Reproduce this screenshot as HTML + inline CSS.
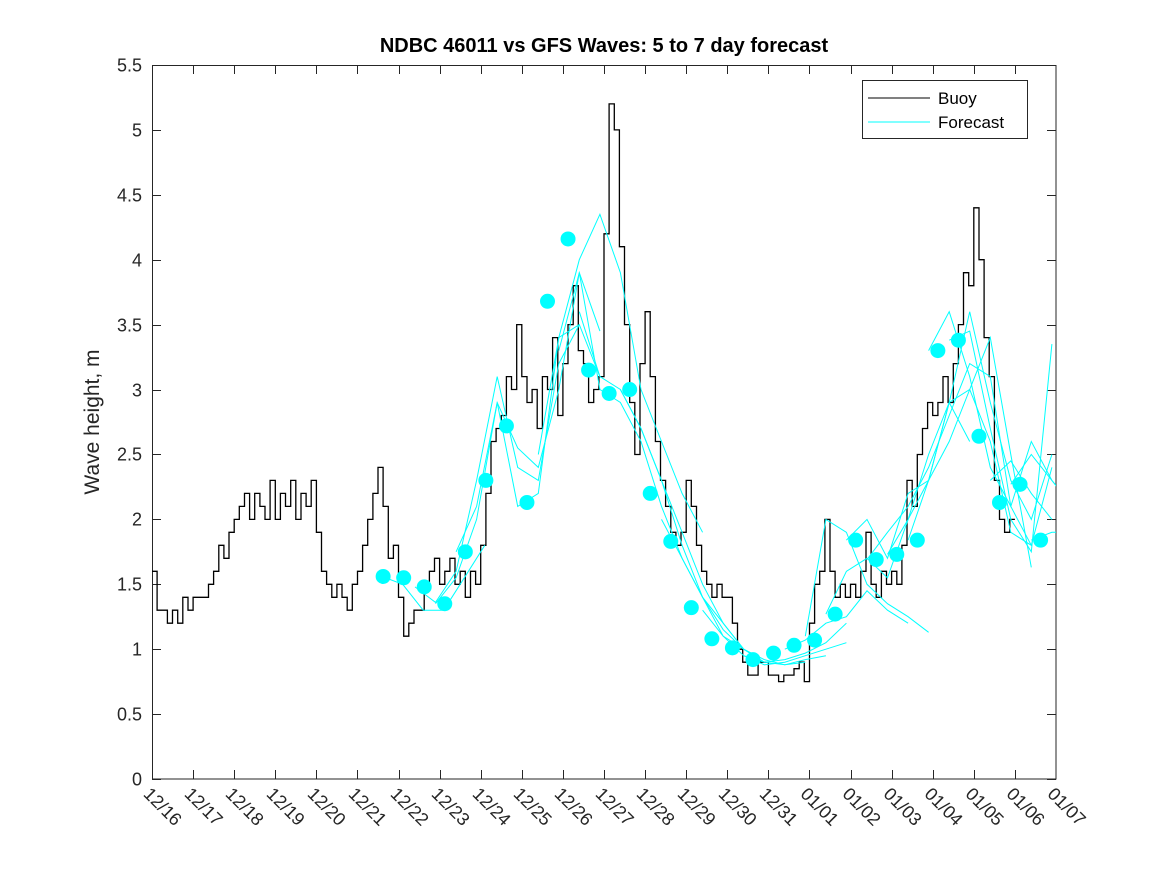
<!DOCTYPE html>
<html><head><meta charset="utf-8"><style>
body{margin:0;background:#fff;}
svg{display:block;font-family:"Liberation Sans","DejaVu Sans",sans-serif;}
</style></head><body>
<svg id="chart" width="1167" height="875" viewBox="0 0 1167 875">
<rect x="0" y="0" width="1167" height="875" fill="#fff"/>
<text x="604" y="52" font-size="20" font-weight="bold" text-anchor="middle" fill="#000">NDBC 46011 vs GFS Waves: 5 to 7 day forecast</text>
<text transform="translate(99,422) rotate(-90)" font-size="21" text-anchor="middle" fill="#262626">Wave height, m</text>
<defs><clipPath id="plotclip"><rect x="152" y="65" width="904" height="714"/></clipPath></defs>
<rect x="152.5" y="65.5" width="903.5" height="713.5" fill="#fff" stroke="#262626" stroke-width="1"/>
<g id="axes"></g>
<g id="series" clip-path="url(#plotclip)"></g>
<g>
<rect x="862.5" y="80.5" width="165" height="58" fill="#fff" stroke="#262626"/>
<line x1="868" y1="98" x2="930" y2="98" stroke="#000" stroke-width="1"/>
<text x="938" y="104" font-size="17" fill="#000">Buoy</text>
<line x1="868" y1="122" x2="930" y2="122" stroke="#00ffff" stroke-width="1"/>
<text x="938" y="128" font-size="17" fill="#000">Forecast</text>
</g>
</svg>
<script>
const xTickLabels=["12/16","12/17","12/18","12/19","12/20","12/21","12/22","12/23","12/24","12/25","12/26","12/27","12/28","12/29","12/30","12/31","01/01","01/02","01/03","01/04","01/05","01/06","01/07"];
const yTicks=[0,0.5,1,1.5,2,2.5,3,3.5,4,4.5,5,5.5];
const buoyStep=0.125;
const buoyValues=[
1.6,1.3,1.3,1.2,1.3,1.2,1.4,1.3,
1.4,1.4,1.4,1.5,1.6,1.8,1.7,1.9,
2.0,2.1,2.2,2.0,2.2,2.1,2.0,2.3,
2.0,2.2,2.1,2.3,2.0,2.2,2.1,2.3,
1.9,1.6,1.5,1.4,1.5,1.4,1.3,1.5,
1.6,1.8,2.0,2.2,2.4,2.1,1.7,1.8,
1.4,1.1,1.2,1.3,1.3,1.5,1.6,1.7,
1.5,1.6,1.7,1.5,1.6,1.4,1.6,1.5,
1.8,2.2,2.6,2.7,2.8,3.1,3.0,3.5,
3.1,2.9,3.0,2.7,3.1,3.0,3.4,2.8,
3.2,3.5,3.8,3.3,3.2,2.9,3.0,3.1,
4.2,5.2,5.0,4.1,3.5,2.9,2.5,3.2,
3.6,3.1,2.6,2.3,2.1,1.9,1.8,1.9,
2.3,2.1,1.8,1.6,1.5,1.4,1.5,1.4,
1.4,1.2,1.0,0.9,0.8,0.8,0.9,0.9,
0.8,0.8,0.75,0.8,0.8,0.85,0.9,0.75,
1.2,1.5,1.6,2.0,1.6,1.4,1.5,1.4,
1.5,1.4,1.6,1.9,1.5,1.4,1.6,1.5,
1.6,1.5,1.8,2.3,2.1,2.5,2.7,2.9,
2.8,2.9,3.1,2.9,3.2,3.5,3.9,3.8,
4.4,4.0,3.4,3.1,2.3,2.0,1.9,2.0];
const markerStart=5.625, markerStep=0.5;
const markerValues=[1.56,1.55,1.48,1.35,1.75,2.30,2.72,2.13,3.68,4.16,3.15,2.97,3.00,2.20,1.83,1.32,1.08,1.01,0.92,0.97,1.03,1.07,1.27,1.84,1.69,1.73,1.84,3.30,3.38,2.64,2.13,2.27,1.84];
const forecastStarts=[5.6,6.4,6.9,7.4,9.4,9.9,10.4,11.4,12.4,13.4,14.4,15.4,15.9,16.4,16.9,17.4,17.9,18.4,18.9,19.4,20.4,20.9,21.4];
const forecastValues=[
[1.56,1.50,1.30,1.30,1.55,1.80],
[1.48,1.36,1.60,2.30,3.10,2.40,2.30,3.20,3.50],
[1.35,1.55,2.0,2.9,2.55,2.4,3.0,3.9,3.45],
[1.75,2.1,2.9,2.1,2.2,3.4,3.5,3.1],
[2.5,3.4,4.0,4.35,3.9,3.0,2.6,2.2,1.9],
[3.3,3.9,3.0,2.9,2.6,2.1,1.7,1.4,1.2,1.0],
[3.6,3.1,3.0,2.7,2.3,1.8,1.4,1.1,1.0,0.9],
[3.0,2.7,2.3,1.9,1.5,1.2,1.0,0.92,0.88,0.9],
[2.0,1.7,1.4,1.15,1.0,0.9,0.88,0.92,0.95],
[1.3,1.1,0.95,0.88,0.9,0.95,1.0,1.05],
[0.95,0.9,0.92,0.97,1.05,1.2],
[1.0,1.07,1.2,1.25,1.45,1.3,1.2],
[1.1,2.0,1.9,1.5,1.35,1.25,1.13],
[1.27,1.6,1.7,1.55,2.0,2.3,2.9,2.6],
[1.84,2.0,1.7,2.2,2.3,2.6,3.0,3.4,2.5,1.63],
[1.69,1.9,2.1,2.4,2.8,3.2,3.1,2.1,1.8],
[1.73,2.0,2.5,2.9,3.0,2.6,1.9,1.8,2.4],
[1.84,2.3,2.9,3.6,2.9,2.3,2.0,2.5],
[3.3,3.6,3.1,2.4,2.1,2.6,2.3,2.1],
[3.38,3.45,2.7,2.0,1.75,3.35],
[2.3,2.45,2.2,2.0],
[2.27,2.5,2.3,2.1],
[1.84,1.9,1.9]];
const NS="http://www.w3.org/2000/svg";
const X0=152,X1=1056,Y0=779,Y1=65,DAYS=22,YMAX=5.5;
function xs(d){return X0+(X1-X0)*d/DAYS;}
function ys(v){return Y0-(Y0-Y1)*v/YMAX;}
function mk(tag,attrs,parent){const e=document.createElementNS(NS,tag);for(const k in attrs)e.setAttribute(k,attrs[k]);parent.appendChild(e);return e;}
const axes=document.getElementById('axes'),series=document.getElementById('series');
yTicks.forEach(v=>{const y=Math.round(ys(v))+0.5;
 const t=mk('line',{x1:152,y1:y,x2:161,y2:y,stroke:'#262626'},axes);
 
 
 const t2=mk('line',{x1:1047,y1:y,x2:1056,y2:y,stroke:'#262626'},axes);
 
 
 const l=mk('text',{x:142,y:y+6,'font-size':18,'text-anchor':'end',fill:'#262626'},axes);
 l.textContent=String(v);
 
 
});
xTickLabels.forEach((s,i)=>{const x=Math.round(xs(i))+0.5;
 if(i>0&&i<DAYS){
 const t=mk('line',{x1:x,y1:779,x2:x,y2:770,stroke:'#262626'},axes);
 
 
 const t2=mk('line',{x1:x,y1:65,x2:x,y2:74,stroke:'#262626'},axes);
 
 }
 const l=mk('text',{transform:`translate(${x-10},${795}) rotate(45)`,'font-size':18,fill:'#262626'},axes);
 l.textContent=s;
 
 
});
let d='';buoyValues.forEach((v,i)=>{const x1=xs(i*buoyStep),x2=xs((i+1)*buoyStep),y=ys(v);d+=(i?'L':'M')+x1.toFixed(1)+','+y.toFixed(1)+'L'+x2.toFixed(1)+','+y.toFixed(1);});
const bp=mk('path',{d:d,fill:'none',stroke:'#000','stroke-width':1.3},series);


forecastValues.forEach((arr,k)=>{const pts=arr.map((v,i)=>xs(forecastStarts[k]+i*0.5).toFixed(1)+','+ys(v).toFixed(1)).join(' ');
 const p=mk('polyline',{points:pts,fill:'none',stroke:'#00ffff','stroke-width':1},series);
 
 
});
markerValues.forEach((v,i)=>{
 const c=mk('circle',{cx:xs(markerStart+i*markerStep),cy:ys(v),r:7.5,fill:'#00ffff'},series);
 
 
});
</script>
</body></html>
